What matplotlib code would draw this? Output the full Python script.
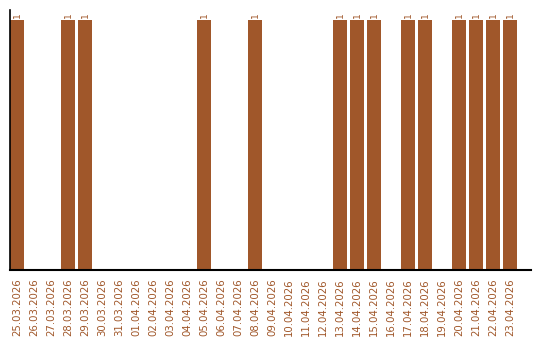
import matplotlib
matplotlib.use("Agg")
import matplotlib.pyplot as plt

dates = ["25.03.2026", "26.03.2026", "27.03.2026", "28.03.2026", "29.03.2026",
         "30.03.2026", "31.03.2026", "01.04.2026", "02.04.2026", "03.04.2026",
         "04.04.2026", "05.04.2026", "06.04.2026", "07.04.2026", "08.04.2026",
         "09.04.2026", "10.04.2026", "11.04.2026", "12.04.2026", "13.04.2026",
         "14.04.2026", "15.04.2026", "16.04.2026", "17.04.2026", "18.04.2026",
         "19.04.2026", "20.04.2026", "21.04.2026", "22.04.2026", "23.04.2026"]
values = [1, 0, 0, 1, 1, 0, 0, 0, 0, 0,
          0, 1, 0, 0, 1, 0, 0, 0, 0, 1,
          1, 1, 0, 1, 1, 0, 1, 1, 1, 1]

color = "#A0572A"

fig = plt.figure(figsize=(5.4, 3.4), dpi=100)
ax = fig.add_axes([10/540, 70/340, 521/540, 260/340])
x = list(range(len(dates)))
bars = ax.bar(x, values, width=14/17, color=color)
for xi, v in zip(x, values):
    if v > 0:
        ax.text(xi, v + 0.01, str(v), rotation=90, ha="center", va="bottom",
                fontsize=6.5, color=color)

ax.set_xlim(-7/17, len(dates) - 1 + 21/17)
ax.set_ylim(0, 1.04)
ax.set_xticks(x)
ax.set_xticklabels(dates, rotation=90, fontsize=7.3, color=color)
ax.tick_params(axis="x", length=0, pad=6)
ax.set_yticks([])
for s in ["top", "right"]:
    ax.spines[s].set_visible(False)
ax.spines["left"].set_color("black")
ax.spines["bottom"].set_color("black")
ax.spines["left"].set_linewidth(1.2)
ax.spines["bottom"].set_linewidth(1.5)

fig.savefig("out.png", dpi=100)
